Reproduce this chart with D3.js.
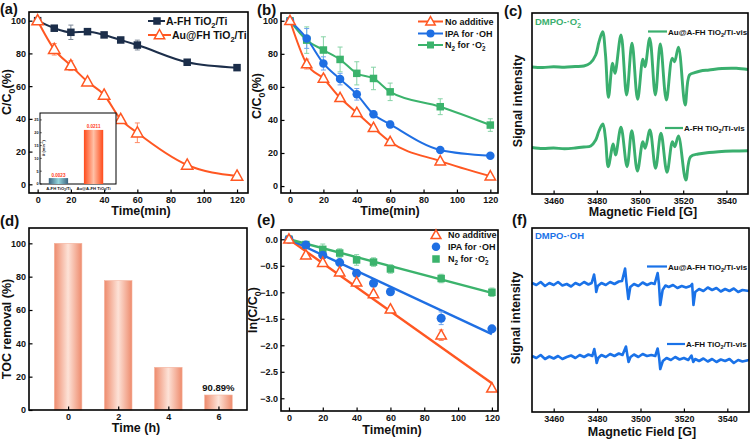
<!DOCTYPE html>
<html><head><meta charset="utf-8">
<script src="https://cdn.jsdelivr.net/npm/d3@7"></script>
<style>
body{margin:0;background:#fff}
svg{display:block}
text{font-family:Arial,"Liberation Sans",sans-serif;font-weight:bold;fill:#111}
</style>
</head><body>
<svg id="chart" width="753" height="442"></svg>
<script>
// ---------------- DATA ----------------
const timeMin = [0,10,20,30,40,50,60,90,120];
// (a)
const aFH = [100,95.4,92.9,93.3,91.3,88.2,85.1,74.6,71.3];
const aFHErr = [0.5,1,4.4,1,1,1,3,1,1];
const auFH = [100,82.5,72.5,62.7,54.6,39.7,31.5,11.8,5.1];
const auFHErr = [0.5,3.5,3,1,1,1,6,1,1];
const kLabels = ["A-FH TiO_{2}/Ti","Au@A-FH TiO_{2}/Ti"];
const kValues = [0.0023,0.0211];
const kTicks = [0,0.005,0.01,0.015,0.02,0.025];
// (b)
const noAdd = [100,73.8,65.1,53.4,44.4,35.3,26.8,15.1,6.0];
const noAddErr = [1,3,2,1.5,1.5,1,1,1,0.5];
const ipa = [100,89.3,74.2,64.7,55.5,43.4,37.3,21.8,18.3];
const ipaErr = [1,6,4,3.5,3.5,2,2,1,1];
const n2 = [100,88.3,82.3,76.6,68.2,65.1,57.0,48.0,36.9];
const n2Err = [1,8,8,7.5,7,6.8,5.3,4.8,3.8];
// (d)
const tocTime = [0,2,4,6];
const tocValue = [100,77.6,25.6,9.0];
const tocNote = "90.89%";
// (e)
const lnNoAdd = [0,-0.30,-0.44,-0.62,-0.81,-1.03,-1.32,-1.81,-2.81];
const lnNoAddErr = [0.02,0.03,0.03,0.03,0.03,0.03,0.03,0.1,0.03];
const lnIpa = [0,-0.11,-0.30,-0.44,-0.64,-0.83,-0.99,-1.49,-1.69];
const lnIpaErr = [0.02,0.03,0.03,0.03,0.03,0.03,0.03,0.12,0.05];
const lnN2 = [0,-0.10,-0.19,-0.26,-0.39,-0.43,-0.56,-0.74,-1.00];
const lnN2Err = [0.02,0.03,0.1,0.08,0.1,0.08,0.08,0.08,0.08];
const fitSlope = [-0.02265,-0.01492,-0.00842];
// (c) EPR DMPO-·O2- : [field (G), intensity (a.u.)]
const eprO2Au = [[3450,127],[3455,126.5],[3460,127.3],[3465,126.8],[3470,127.5],[3474,128],[3477,131],[3479.5,139],[3481,152],[3482.7,162.3],[3484,140],[3485.4,96.7],[3487.3,130.7],[3488.4,120.7],[3491.2,159],[3493.8,99],[3496.3,150.7],[3498.9,94.7],[3501.3,134.7],[3502.3,127.3],[3504.5,155.7],[3507.1,99],[3509.4,150],[3512.2,94],[3514.9,135.7],[3516,132.3],[3517.8,146.7],[3520.9,89],[3522.9,119],[3525.3,121.3],[3528,123],[3532,124],[3538,125.5],[3544.6,125.7],[3550,124.5]];
const eprO2A = [[3450,46.5],[3455,45.5],[3460,46],[3465,45.3],[3470,46],[3474,47],[3477.2,48],[3479.5,54],[3481,63],[3482.8,70],[3484,56],[3485.3,27.3],[3487.6,50],[3488.7,39],[3491.2,66.7],[3494,27.3],[3496.2,63.3],[3498.8,23],[3501.3,52.3],[3502.4,45.7],[3504.6,64],[3507.2,25.7],[3509.7,60.7],[3512.5,21.7],[3515,52.3],[3516.1,47.3],[3517.8,58],[3521.2,14],[3523.4,37.3],[3527,40],[3532,41.5],[3536.3,42.3],[3543,43],[3550,43.3]];
// (f) EPR DMPO-·OH
const eprOHAu = [[3450,129],[3452,127],[3454,130],[3456,126],[3458,129],[3460,127],[3462,130],[3464,126.5],[3466,128],[3468,125.5],[3470,129],[3472,127],[3474,130],[3476,127.5],[3477.5,129],[3478.6,137.5],[3479.2,129],[3479.6,120],[3480.3,126],[3482,129],[3484,127],[3486,130],[3488,128],[3490,130.5],[3491.5,131],[3492.9,143.5],[3493.5,130],[3494.4,113],[3495.3,125],[3497,128],[3499,126],[3501,129.5],[3503,127],[3505,129],[3506.5,128],[3507.9,139],[3508.5,128],[3509.1,107],[3510.2,122],[3511.5,126.5],[3513,125],[3515,127],[3517,124],[3519,126],[3521,124.5],[3523,126],[3523.8,128],[3524.4,107],[3525.2,120],[3527,123],[3529,121],[3531,124.5],[3533,122],[3535,124],[3537,120.5],[3539,123],[3541,121],[3543,123.5],[3545,120],[3547,122],[3550,121]];
const eprOHA = [[3450,56],[3452,54],[3454,57],[3456,53],[3458,55.5],[3460,53.5],[3462,56],[3464,53],[3466,55],[3468,56.5],[3470,54],[3472,57],[3474,55],[3476,57.5],[3477.8,56],[3478.7,63],[3479.4,55],[3479.8,49],[3480.5,54],[3482,57],[3484,55],[3486,58],[3488,56],[3490,58.5],[3491.7,57],[3493.3,65.5],[3494,56],[3494.5,50],[3495.4,55],[3497,57.5],[3499,55],[3501,58],[3503,56],[3505,57],[3506.8,56],[3507.9,63.5],[3508.6,54],[3509.1,43],[3510.3,51],[3512,54],[3514,52],[3516,55],[3518,52.5],[3520,54],[3522,52],[3523.5,56.5],[3524.3,50],[3525.2,53],[3527,51],[3529,53.5],[3531,50.5],[3533,53],[3535,50],[3537,52.5],[3539,51],[3541,53],[3543,49],[3545,52],[3547,50.5],[3550,52]];
const fieldTicks = [3460,3480,3500,3520,3540];

// ---------------- STYLE ----------------
const C = {navy:"#1c2e4a", red:"#ff5722", blue:"#1f6fe3", green:"#3bb36c", greenEpr:"#3aaf6e", blueEpr:"#1a72e8"};
const svg = d3.select("#chart");
const defs = svg.append("defs");
function hgrad(id, edge, mid){
  const g = defs.append("linearGradient").attr("id",id).attr("x1","0").attr("x2","1").attr("y1","0").attr("y2","0");
  g.append("stop").attr("offset","0").attr("stop-color",edge);
  g.append("stop").attr("offset","0.5").attr("stop-color",mid);
  g.append("stop").attr("offset","1").attr("stop-color",edge);
}
hgrad("gToc","#ee8b6d","#fde2d7");
hgrad("gInA","#3d6480","#93d6dc");
hgrad("gInB","#ff4a1a","#ffc0a6");

function rich(t, str, size){
  const parts = str.split(/(_\{[^}]*\}|\^\{[^}]*\})/).filter(s=>s.length);
  let off = 0, lastSub = 0;
  parts.forEach((p,i)=>{
    let target = 0, content = p, fs = size, dx = 0;
    if(p.startsWith("_{")){target = 0.3*size; content = p.slice(2,-1); fs = 0.7*size;}
    else if(p.startsWith("^{")){target = -0.4*size; content = p.slice(2,-1); fs = 0.7*size;
      if(i>0 && parts[i-1].startsWith("_{")) dx = -lastSub*0.556*0.7*size;}
    const ts = t.append("tspan").attr("dy", (target-off).toFixed(2)).attr("font-size", fs).text(content);
    if(dx) ts.attr("dx", dx.toFixed(2));
    off = target;
    if(p.startsWith("_{")) lastSub = content.length;
  });
  return t;
}
function label(x,y,str,size,opts={}){
  const t = svg.append("text").attr("x",x).attr("y",y).attr("font-size",size)
    .attr("text-anchor",opts.anchor||"start");
  if(opts.fill) t.style("fill",opts.fill);
  if(opts.rotate) t.attr("transform",`rotate(-90,${x},${y})`);
  return rich(t,str,size);
}
function panel(box, xDom, yDom){
  const x = d3.scaleLinear().domain(xDom).range([box.l, box.r]);
  const y = d3.scaleLinear().domain(yDom).range([box.b, box.t]);
  return {x,y,box};
}
function axes(p, xt, yt, xfmt, yfmt){
  const {x,y,box} = p;
  const gx = svg.append("g").attr("transform",`translate(0,${box.b})`)
    .call(d3.axisBottom(x).tickValues(xt).tickSize(-3.5).tickPadding(4).tickFormat(xfmt||d3.format("d")));
  gx.select(".domain").remove();
  gx.selectAll("text").attr("font-size",9);
  gx.selectAll("line").attr("stroke","#000").attr("stroke-width",1.2);
  if(yt){
    const gy = svg.append("g").attr("transform",`translate(${box.l},0)`)
      .call(d3.axisLeft(y).tickValues(yt).tickSize(-3.5).tickPadding(3).tickFormat(yfmt||d3.format("d")));
    gy.select(".domain").remove();
    gy.selectAll("text").attr("font-size",9);
    gy.selectAll("line").attr("stroke","#000").attr("stroke-width",1.2);
  }
}
function frame(p){
  const b = p.box;
  svg.append("rect").attr("x",b.l).attr("y",b.t).attr("width",b.r-b.l).attr("height",b.b-b.t)
    .attr("fill","none").attr("stroke","#000").attr("stroke-width",1.6);
}
function errBars(p, xs, ys, es, color){
  const g = svg.append("g").attr("stroke",color).attr("stroke-width",1);
  xs.forEach((t,i)=>{
    const cx = p.x(t), y1 = p.y(ys[i]-es[i]), y2 = p.y(ys[i]+es[i]);
    g.append("line").attr("x1",cx).attr("x2",cx).attr("y1",y1).attr("y2",y2);
    g.append("line").attr("x1",cx-2.5).attr("x2",cx+2.5).attr("y1",y1).attr("y2",y1);
    g.append("line").attr("x1",cx-2.5).attr("x2",cx+2.5).attr("y1",y2).attr("y2",y2);
  });
}
function curve(p, xs, ys, color, w){
  const line = d3.line().x((d,i)=>p.x(xs[i])).y(d=>p.y(d)).curve(d3.curveMonotoneX);
  svg.append("path").attr("d",line(ys)).attr("fill","none").attr("stroke",color).attr("stroke-width",w||2);
}
function marker(type, cx, cy, color, s){
  if(type==="sq") svg.append("rect").attr("x",cx-s/2).attr("y",cy-s/2).attr("width",s).attr("height",s).attr("fill",color);
  else if(type==="ci") svg.append("circle").attr("cx",cx).attr("cy",cy).attr("r",s/2).attr("fill",color);
  else if(type==="tri") svg.append("path")
    .attr("d",`M${cx},${cy-s*0.55}L${cx+s*0.52},${cy+s*0.38}L${cx-s*0.52},${cy+s*0.38}Z`)
    .attr("fill","#fff").attr("stroke",color).attr("stroke-width",1.5);
}
function markers(p, xs, ys, type, color, s){
  xs.forEach((t,i)=>marker(type,p.x(t),p.y(ys[i]),color,s));
}
const T = 12.5;

// ---------------- (a) ----------------
const pa = panel({l:29,t:12,r:248,b:193},[-5.2,126.6],[-5.3,105.3]);
errBars(pa,timeMin,aFH,aFHErr,"#7b8796");
errBars(pa,timeMin,auFH,auFHErr,"#ff8a66");
curve(pa,timeMin,aFH,C.navy);
curve(pa,timeMin,auFH,C.red);
markers(pa,timeMin,aFH,"sq",C.navy,7.5);
markers(pa,timeMin,auFH,"tri",C.red,11);
axes(pa,[0,20,40,60,80,100,120],[0,20,40,60,80,100]);
frame(pa);
// legend a
svg.append("line").attr("x1",148).attr("x2",165).attr("y1",21).attr("y2",21).attr("stroke",C.navy).attr("stroke-width",2);
marker("sq",157,21,C.navy,7.5);
label(166,24.5,"A-FH TiO_{2}/Ti",10.5);
svg.append("line").attr("x1",148).attr("x2",171).attr("y1",35).attr("y2",35).attr("stroke",C.red).attr("stroke-width",2);
marker("tri",159.5,35,C.red,10);
label(172,39,"Au@FH TiO_{2}/Ti",10.5);
// inset
const inBox = {l:40,t:113,r:116,b:184};
svg.append("rect").attr("x",inBox.l).attr("y",inBox.t).attr("width",inBox.r-inBox.l).attr("height",inBox.b-inBox.t)
  .attr("fill","#fff").attr("stroke","#000").attr("stroke-width",1);
const ix = d3.scaleBand().domain(kLabels).range([inBox.l, 112]).paddingInner(0.45).paddingOuter(0.25);
const iy = d3.scaleLinear().domain([0,0.0277]).range([inBox.b, inBox.t]);
kLabels.forEach((k,i)=>{
  svg.append("rect").attr("x",ix(k)).attr("y",iy(kValues[i])).attr("width",ix.bandwidth())
    .attr("height",iy(0)-iy(kValues[i])).attr("fill",i?"url(#gInB)":"url(#gInA)");
  svg.append("text").attr("x",ix(k)+ix.bandwidth()/2).attr("y",iy(kValues[i])-1.5)
    .attr("font-size",4.6).attr("text-anchor","middle").style("fill","#ff3b1a").text(kValues[i].toFixed(4));
  const t = svg.append("text").attr("x",ix(k)+ix.bandwidth()/2).attr("y",inBox.b+5.5).attr("font-size",4.2).attr("text-anchor","middle");
  rich(t,k,4.2);
});
kTicks.forEach(v=>{
  svg.append("text").attr("x",inBox.l-1.5).attr("y",iy(v)+1.4).attr("font-size",3.8).attr("text-anchor","end").text(d3.format("d")(v*1000));
  svg.append("line").attr("x1",inBox.l).attr("x2",inBox.l+1.8).attr("y1",iy(v)).attr("y2",iy(v)).attr("stroke","#000").attr("stroke-width",0.6);
});
{
  const t = svg.append("text").attr("x",44.5).attr("y",148).attr("font-size",4).attr("text-anchor","middle")
    .attr("transform","rotate(-90,44.5,148)");
  t.append("tspan").style("font-style","italic").text("k");
  rich(t," (min^{-1})",4);
}
label(11,92,"C/C_{0}(%)",T,{anchor:"middle",rotate:true});
label(141,215,"Time(min)",T,{anchor:"middle"});
label(0,13.5,"(a)",14.5);

// ---------------- (b) ----------------
const pb = panel({l:281,t:13,r:498,b:193},[-5.4,124.6],[-4.2,104.7]);
errBars(pb,timeMin,n2,n2Err,"#86d3a6");
errBars(pb,timeMin,ipa,ipaErr,"#6fa4ee");
errBars(pb,timeMin,noAdd,noAddErr,"#ff8c6b");
curve(pb,timeMin,n2,C.green);
curve(pb,timeMin,ipa,C.blue);
curve(pb,timeMin,noAdd,C.red);
markers(pb,timeMin,n2,"sq",C.green,7.5);
markers(pb,timeMin,ipa,"ci",C.blue,8.5);
markers(pb,timeMin,noAdd,"tri",C.red,10);
axes(pb,[0,20,40,60,80,100,120],[0,20,40,60,80,100]);
frame(pb);
[[C.red,"tri","No additive",21.5],[C.blue,"ci","IPA for ·OH",33.5],[C.green,"sq","N_{2} for ·O_{2}^{-}",45]].forEach(([c,m,s,yy])=>{
  svg.append("line").attr("x1",418).attr("x2",443).attr("y1",yy).attr("y2",yy).attr("stroke",c).attr("stroke-width",2);
  marker(m,430.5,yy,c,m==="tri"?9:(m==="ci"?8:7));
  label(445,yy+3.3,s,9);
});
label(261,96,"C/C_{0}(%)",T,{anchor:"middle",rotate:true});
label(390,215,"Time(min)",T,{anchor:"middle"});
label(257,14.5,"(b)",15);

// ---------------- (c) ----------------
const pc = panel({l:532,t:13,r:748,b:194},[3450,3550],[0,181]);
const eprLine = (p)=>d3.line().x(d=>p.x(d[0])).y(d=>p.y(d[1])).curve(d3.curveCatmullRom.alpha(0.5));
svg.append("path").attr("d",eprLine(pc)(eprO2Au)).attr("fill","none").attr("stroke",C.greenEpr).attr("stroke-width",2.9);
svg.append("path").attr("d",eprLine(pc)(eprO2A)).attr("fill","none").attr("stroke",C.greenEpr).attr("stroke-width",2.9);
axes(pc,fieldTicks,null);
frame(pc);
label(535,25,"DMPO-·O_{2}^{-}",9.5,{fill:C.greenEpr});
svg.append("line").attr("x1",648).attr("x2",667).attr("y1",31.5).attr("y2",31.5).attr("stroke",C.greenEpr).attr("stroke-width",2.2);
label(668,34.5,"Au@A-FH TiO_{2}/Ti-vis",8);
svg.append("line").attr("x1",665).attr("x2",683).attr("y1",128).attr("y2",128).attr("stroke",C.greenEpr).attr("stroke-width",2.2);
label(684,131,"A-FH TiO_{2}/Ti-vis",8);
label(522,101,"Signal intensity",T,{anchor:"middle",rotate:true});
label(643,216,"Magnetic Field [G]",T,{anchor:"middle"});
label(504,16,"(c)",15);

// ---------------- (d) ----------------
const pd = panel({l:29,t:228,r:247,b:410},[-1.56,7.14],[0,109.2]);
tocTime.forEach((t,i)=>{
  const w = pd.x(1.1)-pd.x(0);
  svg.append("rect").attr("x",pd.x(t)-w/2).attr("y",pd.y(tocValue[i])).attr("width",w)
    .attr("height",pd.y(0)-pd.y(tocValue[i])).attr("fill","url(#gToc)").attr("stroke","#f4b29c").attr("stroke-width",0.6);
});
svg.append("text").attr("x",pd.x(tocTime[3])).attr("y",pd.y(tocValue[3])-4).attr("font-size",9.5)
  .attr("text-anchor","middle").text(tocNote);
axes(pd,tocTime,[0,20,40,60,80,100]);
frame(pd);
label(11,329,"TOC removal (%)",T,{anchor:"middle",rotate:true});
label(136,432,"Time (h)",T,{anchor:"middle"});
label(0,226,"(d)",15);

// ---------------- (e) ----------------
const pe = panel({l:281,t:230,r:498,b:411},[-4.7,123.6],[-3.24,0.175]);
[[fitSlope[0],C.red],[fitSlope[1],C.blue],[fitSlope[2],C.green]].forEach(([k,c])=>{
  svg.append("line").attr("x1",pe.x(0)).attr("x2",pe.x(120)).attr("y1",pe.y(0)).attr("y2",pe.y(k*120))
    .attr("stroke",c).attr("stroke-width",2.4);
});
errBars(pe,timeMin,lnN2,lnN2Err,"#86d3a6");
errBars(pe,timeMin,lnIpa,lnIpaErr,"#6fa4ee");
errBars(pe,timeMin,lnNoAdd,lnNoAddErr,"#ff8c6b");
markers(pe,timeMin,lnN2,"sq",C.green,7.5);
markers(pe,timeMin,lnIpa,"ci",C.blue,9);
markers(pe,timeMin,lnNoAdd,"tri",C.red,10);
axes(pe,[0,20,40,60,80,100,120],[0,-0.5,-1,-1.5,-2,-2.5,-3],null,d3.format(".1f"));
frame(pe);
[[C.red,"tri","No additive",235],[C.blue,"ci","IPA for ·OH",246.7],[C.green,"sq","N_{2} for ·O_{2}^{-}",259]].forEach(([c,m,s,yy])=>{
  marker(m,436,yy,c,m==="tri"?9.5:(m==="ci"?8.5:7.5));
  label(448,yy+3.3,s,9);
});
label(257,310,"ln(C/C_{0})",T,{anchor:"middle",rotate:true});
label(392,434,"Time(min)",T,{anchor:"middle"});
label(257,225,"(e)",15);

// ---------------- (f) ----------------
const pf = panel({l:532,t:228,r:749,b:412},[3450,3550],[0,184]);
const ohLine = d3.line().x(d=>pf.x(d[0])).y(d=>pf.y(d[1]));
svg.append("path").attr("d",ohLine(eprOHAu)).attr("fill","none").attr("stroke",C.blueEpr).attr("stroke-width",2.6).attr("stroke-linejoin","round");
svg.append("path").attr("d",ohLine(eprOHA)).attr("fill","none").attr("stroke",C.blueEpr).attr("stroke-width",2.6).attr("stroke-linejoin","round");
axes(pf,fieldTicks,null);
frame(pf);
label(535,239,"DMPO-·OH",9.5,{fill:C.blueEpr});
svg.append("line").attr("x1",647).attr("x2",667).attr("y1",266.5).attr("y2",266.5).attr("stroke",C.blueEpr).attr("stroke-width",2.2);
label(668,269.5,"Au@A-FH TiO_{2}/Ti-vis",8);
svg.append("line").attr("x1",667).attr("x2",685).attr("y1",344).attr("y2",344).attr("stroke",C.blueEpr).attr("stroke-width",2.2);
label(686,347,"A-FH TiO_{2}/Ti-vis",8);
label(520,318,"Signal intensity",T,{anchor:"middle",rotate:true});
label(642,436,"Magnetic Field [G]",T,{anchor:"middle"});
label(512,225,"(f)",15);
</script>
</body></html>
